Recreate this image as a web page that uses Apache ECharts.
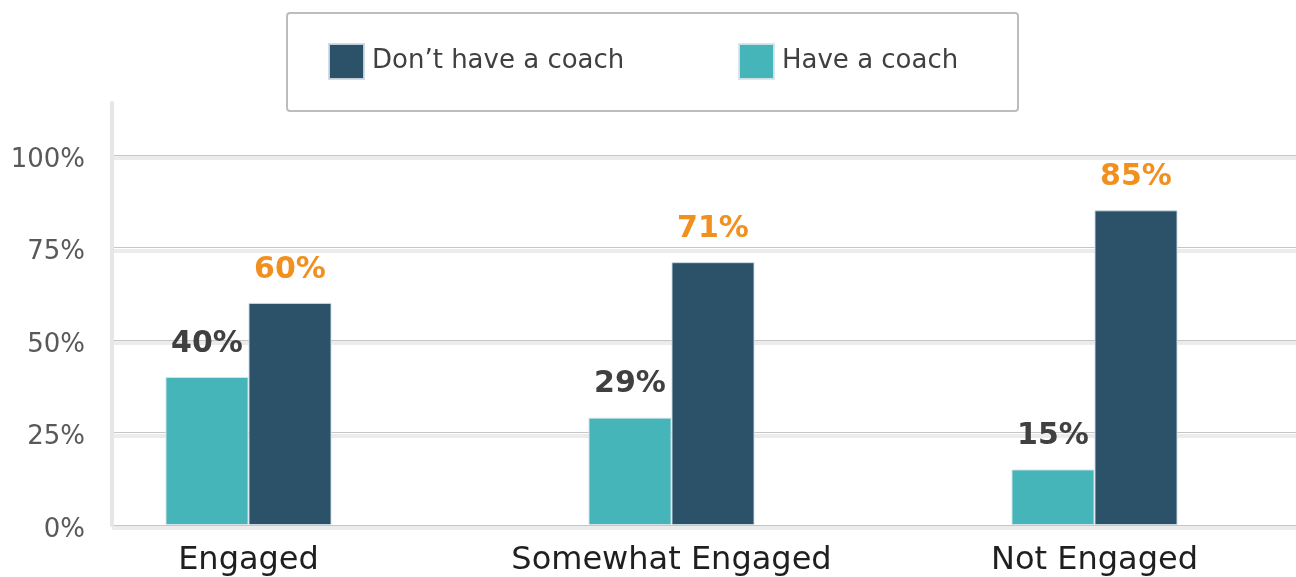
<!DOCTYPE html>
<html>
<head>
<meta charset="utf-8">
<script src="https://cdn.jsdelivr.net/npm/echarts@6/dist/echarts.min.js"></script>
<style>
  html, body { margin: 0; padding: 0; background: #ffffff; }
  #chart { width: 1296px; height: 577px; }
</style>
</head>
<body>
<div id="chart"></div>
<script>
// Coaching vs. engagement survey results (percent of respondents)
const categories = ['Engaged', 'Somewhat Engaged', 'Not Engaged'];
const haveCoach = [40, 29, 15];
const noCoach = [60, 71, 85];
const yTicks = [0, 25, 50, 75, 100];
const seriesNames = ['Have a coach', 'Don\u2019t have a coach'];

const FONT = '"DejaVu Sans", "Noto Sans", sans-serif';
const TEAL = '#45b5b9';
const NAVY = '#2c5269';
const ORANGE = '#f2901f';
const Y_MAX = 114;

const chart = echarts.init(document.getElementById('chart'), null, { renderer: 'canvas' });

const pctLabel = v => (yTicks.indexOf(v) >= 0 ? v + '%' : '');

chart.setOption({
  animation: false,
  backgroundColor: '#ffffff',
  grid: [
    // value axis line and gridlines
    { left: 112, right: 0, top: 103, bottom: 52, outerBoundsMode: 'none' },
    // pale band drawn just under each gridline
    { left: 112, right: 0, top: 106, bottom: 49, outerBoundsMode: 'none' },
    // bar area: category bands run a little past both plot edges
    { left: 37, width: 1269, top: 103, bottom: 52, outerBoundsMode: 'none' },
    // tick labels, sitting slightly below their gridlines
    { left: 112, right: 0, top: 108, bottom: 47, outerBoundsMode: 'none' }
  ],
  graphic: [{
    type: 'rect',
    left: 286, top: 12, z: 0,
    shape: { width: 731, height: 98, r: 3 },
    style: { fill: '#ffffff', stroke: '#bdbdbd', lineWidth: 2 }
  }],
  legend: [
    {
      data: [seriesNames[1]], left: 328, top: 43, padding: 0,
      itemWidth: 35, itemHeight: 35, icon: 'rect', z: 5,
      textStyle: { fontFamily: FONT, fontSize: 26, color: '#404040', padding: [0, 0, 0, 3] }
    },
    {
      data: [seriesNames[0]], left: 738, top: 43, padding: 0,
      itemWidth: 35, itemHeight: 35, icon: 'rect', z: 5,
      textStyle: { fontFamily: FONT, fontSize: 26, color: '#404040', padding: [0, 0, 0, 3] }
    }
  ],
  xAxis: [
    { gridIndex: 0, type: 'value', show: false },
    { gridIndex: 1, type: 'value', show: false },
    {
      gridIndex: 2, type: 'category', data: categories,
      axisLine: { show: false }, axisTick: { show: false }, splitLine: { show: false },
      axisLabel: { interval: 0, margin: 20, fontFamily: FONT, fontSize: 32, color: '#1f1f1f' }
    },
    { gridIndex: 3, type: 'value', show: false }
  ],
  yAxis: [
    {
      gridIndex: 0, type: 'value', min: 0, max: Y_MAX, interval: 25,
      axisLine: { show: true, lineStyle: { color: '#e6e6e6', width: 4 } },
      axisTick: { show: false }, axisLabel: { show: false },
      splitLine: { show: true, showMaxLine: false, lineStyle: { color: '#c6c6c6', width: 1 } }
    },
    {
      gridIndex: 1, type: 'value', min: 0, max: Y_MAX, interval: 25,
      axisLine: { show: false }, axisTick: { show: false }, axisLabel: { show: false },
      splitLine: { show: true, showMaxLine: false, lineStyle: { color: '#ececec', width: 4 } }
    },
    {
      gridIndex: 2, type: 'value', min: 0, max: Y_MAX, show: false,
      splitLine: { show: false }
    },
    {
      gridIndex: 3, type: 'value', min: 0, max: Y_MAX, interval: 25,
      axisLine: { show: false }, axisTick: { show: false }, splitLine: { show: false },
      axisLabel: {
        formatter: pctLabel, showMaxLabel: false, margin: 27,
        fontFamily: FONT, fontSize: 26, color: '#595959'
      }
    }
  ],
  series: [
    {
      name: seriesNames[0], type: 'bar', xAxisIndex: 2, yAxisIndex: 2,
      data: haveCoach, barWidth: 83, barGap: '0%',
      itemStyle: { color: TEAL, borderColor: 'rgba(215,228,234,0.9)', borderWidth: 1 },
      label: {
        show: true, position: 'top', distance: 18, formatter: '{c}%',
        fontFamily: FONT, fontWeight: 'bold', fontSize: 30, color: '#404040'
      }
    },
    {
      name: seriesNames[1], type: 'bar', xAxisIndex: 2, yAxisIndex: 2,
      data: noCoach, barWidth: 83, barGap: '0%',
      itemStyle: { color: NAVY, borderColor: 'rgba(205,218,228,0.9)', borderWidth: 1 },
      label: {
        show: true, position: 'top', distance: 18, formatter: '{c}%',
        fontFamily: FONT, fontWeight: 'bold', fontSize: 30, color: ORANGE
      }
    }
  ]
});
</script>
</body>
</html>
